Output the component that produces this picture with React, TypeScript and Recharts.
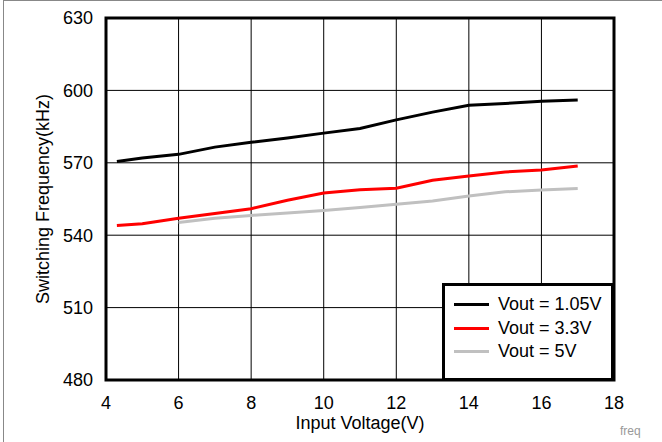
import { CartesianGrid, Line, LineChart, ReferenceArea, XAxis, YAxis } from "recharts";

const vin = [4.3, 5, 6, 7, 8, 9, 10, 11, 12, 13, 14, 15, 16, 17];
const vout105 = [570.5, 572, 573.5, 576.5, 578.5, 580.3, 582.3, 584.2, 587.8, 591, 593.8, 594.6, 595.5, 596];
const vout33 = [544, 544.7, 547, 549, 551, 554.5, 557.5, 558.8, 559.5, 562.8, 564.5, 566.2, 567, 568.7];
const vout5 = [null, null, 545.3, 547, 548.2, 549.2, 550.2, 551.5, 552.8, 554.2, 556.2, 558, 558.7, 559.3];
const xTicks = [4, 6, 8, 10, 12, 14, 16, 18];
const yTicks = [480, 510, 540, 570, 600, 630];

const data = vin.map((v, i) => ({ vin: v, a: vout105[i], b: vout33[i], c: vout5[i] }));

const font = "Arial, 'Liberation Sans', sans-serif";
const tick = { fontSize: 18, fill: "#000", fontFamily: font };

const series = [
  { key: "a", name: "Vout = 1.05V", color: "#000000" },
  { key: "b", name: "Vout = 3.3V", color: "#ff0000" },
  { key: "c", name: "Vout = 5V", color: "#c0c0c0" },
];

function LegendBox() {
  return (
    <div
      style={{
        position: "absolute",
        left: 442,
        top: 283,
        width: 172,
        height: 98,
        border: "3px solid #000",
        background: "#fff",
        boxSizing: "border-box",
        padding: "7px 0 0 9px",
        fontFamily: font,
        fontSize: 18,
        lineHeight: "23.5px",
      }}
    >
      {series.map((s) => (
        <div key={s.key} style={{ display: "flex", alignItems: "center" }}>
          <span style={{ width: 35, height: 3, background: s.color, marginRight: 9 }} />
          <span>{s.name}</span>
        </div>
      ))}
    </div>
  );
}

export default function App() {
  return (
    <div style={{ position: "absolute", left: 0, top: 0, width: 662, height: 442, background: "#fff" }}>
      <div
        style={{
          position: "absolute",
          left: 3,
          top: 0,
          width: 659,
          height: 442,
          borderTop: "1px solid #888",
          borderLeft: "1px solid #888",
          boxSizing: "border-box",
        }}
      />
      <LineChart
        width={662}
        height={442}
        data={data}
        margin={{ top: 18, right: 48, left: 46, bottom: 32 }}
        style={{ position: "absolute", left: 0, top: 0 }}
      >
        <CartesianGrid stroke="#000" strokeWidth={1} />
        <XAxis
          dataKey="vin"
          type="number"
          domain={[4, 18]}
          ticks={xTicks}
          height={30}
          tickLine={false}
          axisLine={false}
          tick={tick}
          tickMargin={10}
          label={{ value: "Input Voltage(V)", position: "insideBottom", offset: -19, style: tick }}
        />
        <YAxis
          type="number"
          domain={[480, 630]}
          ticks={yTicks}
          width={60}
          tickLine={false}
          axisLine={false}
          tick={tick}
          tickMargin={7}
          label={{
            value: "Switching Frequency(kHz)",
            angle: -90,
            position: "insideLeft",
            offset: -3,
            textAnchor: "middle",
            style: { ...tick, textAnchor: "middle" },
          }}
        />
        {series.map((s) => (
          <Line
            key={s.key}
            dataKey={s.key}
            name={s.name}
            stroke={s.color}
            strokeWidth={3}
            dot={false}
            type="linear"
            connectNulls={false}
            isAnimationActive={false}
          />
        ))}
        <ReferenceArea x1={4} x2={18} y1={480} y2={630} fill="none" stroke="#000" strokeWidth={3} fillOpacity={0} />
      </LineChart>
      <LegendBox />
      <div
        style={{
          position: "absolute",
          left: 620,
          top: 424,
          fontFamily: font,
          fontSize: 12,
          color: "#999",
        }}
      >
        freq
      </div>
    </div>
  );
}
